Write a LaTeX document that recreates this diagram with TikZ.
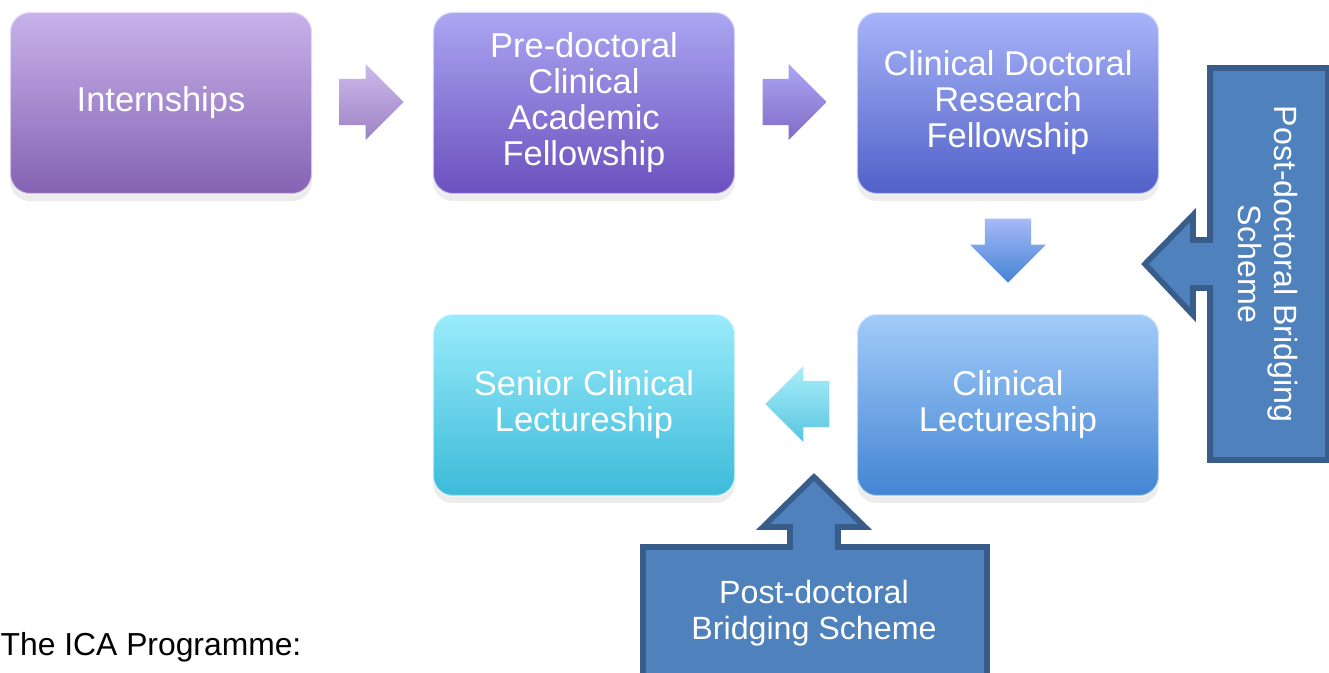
\documentclass[tikz,border=0pt]{standalone}
\usepackage{fontspec}
\setmainfont{Liberation Sans}
\usetikzlibrary{shapes.arrows,shadows}

\definecolor{internTop}{HTML}{C8B2EA}\definecolor{internBot}{HTML}{8463B3}
\definecolor{predocTop}{HTML}{ABA6F2}\definecolor{predocBot}{HTML}{6B50BE}
\definecolor{cdrfTop}{HTML}{A8B4F8}\definecolor{cdrfBot}{HTML}{5060C8}
\definecolor{lectTop}{HTML}{A2CCF9}\definecolor{lectBot}{HTML}{4384D3}
\definecolor{seniorTop}{HTML}{9AECFB}\definecolor{seniorBot}{HTML}{3CBAD9}
\definecolor{bridgeFill}{HTML}{4F81BD}\definecolor{bridgeDraw}{HTML}{385D8A}

\begin{document}
\begin{tikzpicture}[
            x=0.01cm, y=-0.01cm,
            font=\fontsize{9.15}{10.24}\selectfont,
            stage/.style={minimum width=3.02cm, minimum height=1.82cm, rounded corners=0.2cm,
                align=center, text=white, inner sep=0pt, draw=white, draw opacity=0.6, line width=0.6pt,
                font=\fontsize{9.8}{10.24}\selectfont,
                drop shadow={opacity=0.15, shadow xshift=0pt, shadow yshift=-2pt}},
            flow/.style={shape=single arrow, single arrow head extend=0.15cm, minimum width=0.75cm,
                minimum height=0.64cm, anchor=tail, inner xsep=0pt, inner ysep=0.225cm},
            flowdown/.style={flow, shape border rotate=270, inner xsep=0.225cm, inner ysep=0pt},
            bridge/.style={fill=bridgeFill, draw=bridgeDraw, line width=1.6pt, line join=miter}
        ]
        \useasboundingbox (0,0) rectangle (1329,673);

        % The Stages
        \node[stage, top color=internTop, bottom color=internBot] (intern) at (161,103) {Internships};
        \node[stage, top color=predocTop, bottom color=predocBot] (predoc) at (584,103) {Pre-doctoral\\Clinical\\Academic\\Fellowship};
        \node[stage, top color=cdrfTop, bottom color=cdrfBot] (cdrf) at (1008,103) {Clinical Doctoral\\Research\\Fellowship};
        \node[stage, top color=lectTop, bottom color=lectBot] (lect) at (1008,405) {Clinical\\Lectureship};
        \node[stage, top color=seniorTop, bottom color=seniorBot] (senior) at (584,405) {Senior Clinical\\Lectureship};

        % Block Arrows between the stages
        \node[flow, top color=internTop!90!white, bottom color=internBot!80!white] (flowA) at (339,102) {};
        \node[flow, top color=predocTop, bottom color=predocBot!85!white] (flowB) at (762,102) {};
        \node[flowdown, top color=cdrfTop!80!lectTop, bottom color=lectBot] (flowC) at (1008,218) {};
        \node[flow, shape border rotate=180, top color=seniorTop!85!white, bottom color=seniorBot!85!white] (flowD) at (830,404) {};

        % Bridging Scheme (right)
        \draw[bridge] (1210,68) -- (1328,68) -- (1328,460) -- (1210,460) -- (1210,288) -- (1193,288)
            -- (1193,315) -- (1145,264) -- (1193,215) -- (1193,240) -- (1210,240) -- cycle;
        \node[rotate=-90, align=center, text=white] (bridgeR) at (1268,264) {Post-doctoral Bridging\\Scheme};

        % Bridging Scheme (bottom)
        \draw[bridge] (643,700) -- (643,547) -- (790,547) -- (790,527) -- (763,527) -- (814,477)
            -- (865,527) -- (838,527) -- (838,547) -- (987,547) -- (987,700);
        \node[align=center, text=white] (bridgeB) at (814,613) {Post-doctoral\\Bridging Scheme};

        % Caption
        \node[anchor=west, inner sep=0pt, font=\fontsize{9.05}{10.24}\selectfont] (title) at (0,647) {The ICA Programme:};

    \end{tikzpicture}
\end{document}
